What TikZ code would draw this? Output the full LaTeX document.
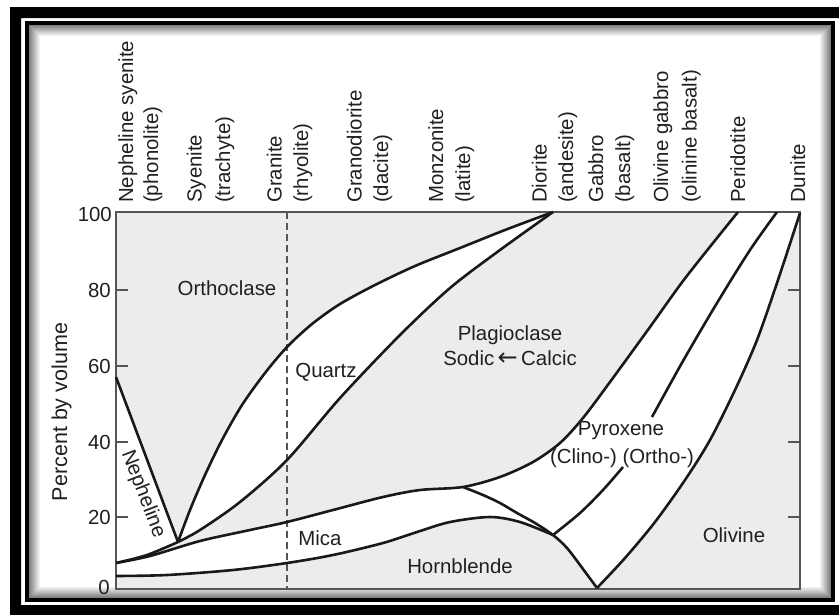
\documentclass[tikz,border=0pt]{standalone}
\usepackage{fontspec}
\setmainfont{Liberation Sans}
\newfontfamily\arrfont{DejaVu Sans}
\definecolor{bggray}{RGB}{236,236,238}
\definecolor{txt}{RGB}{32,32,32}
\definecolor{crv}{RGB}{25,25,25}
\definecolor{axc}{RGB}{85,85,85}
\begin{document}
\begin{tikzpicture}[x=1pt,y=-1pt,
  lab/.style={font=\fontsize{20.4}{24}\selectfont, text=txt, inner sep=0pt},
  col/.style={lab, rotate=90, anchor=base west},
  tick/.style={lab, anchor=base east},
  curve/.style={draw=crv, line width=2.6pt, line join=round},
  axis/.style={draw=axc, line width=1.4pt},
  divline/.style={draw=axc, line width=1.2pt, dash pattern=on 7pt off 4pt},
]
\useasboundingbox (0,0) rectangle (839,614);
\fill[white] (0,0) rectangle (839,614);
% outer black frame
\fill[black, even odd rule] (10,7) rectangle (860,640) (21,18) rectangle (850,605);
% inner shadow
\foreach \i in {0,...,10} {
  \pgfmathsetmacro\s{50-4.5*\i}
  \draw[black!\s, line width=1.1pt] (29.5+\i,25.5+\i) rectangle (830.5-\i,597.5-\i);
}
% inner frame
\draw[black, line width=4pt] (27,23) rectangle (833,600);

% key points
\coordinate (N0) at (116,377);
\coordinate (V)  at (178,542);
\coordinate (Lm) at (116,563);
\coordinate (Lh) at (116,576);
\coordinate (D)  at (553,212);
\coordinate (J1) at (463,487);
\coordinate (J2) at (553,535);
\coordinate (Bt) at (597,588);
\coordinate (At) at (738,212);
\coordinate (Ot) at (777,212);
\coordinate (Ct) at (800,213);

% plot background
\fill[bggray] (116,212) rectangle (800,589);

% white regions
\fill[white] (N0) -- (V) -- plot[smooth] coordinates {(V) (147,555) (Lm)} -- cycle;
\fill[white] plot[smooth] coordinates {(V) (190,510) (205,475) (222,440) (242,405) (265,373) (287,347) (312,324) (340,304) (375,285) (415,266) (460,248) (505,230) (D)}
  -- plot[smooth] coordinates {(D) (500,250) (450,288) (400,335) (340,398) (287,460) (240,502) (200,530) (V)} -- cycle;
\fill[white] plot[smooth] coordinates {(Lm) (150,556) (200,541) (250,530) (287,522) (333,510) (383,497) (420,490) (J1) (500,477) (533,462) (560,443) (583,418) (610,382) (650,327) (683,281) (717,238) (At)}
  -- (Ct)
  -- plot[smooth] coordinates {(Ct) (778,280) (757,340) (735,390) (710,440) (685,480) (655,522) (625,558) (Bt)}
  -- plot[smooth] coordinates {(Bt) (583,569) (567,548) (J2)}
  -- plot[smooth] coordinates {(J2) (520,522) (490,517) (450,522) (417,532) (383,543) (333,555) (287,563) (233,570) (167,575) (Lh)}
  -- cycle;

% granite divider
\draw[divline] (287,212) -- (287,589);

% axes frame and ticks
\draw[axis] (116,212) rectangle (800,589);
\foreach \y in {290,366,442,517} {
  \draw[axis] (116,\y) -- (128,\y);
  \draw[axis] (788,\y) -- (800,\y);
}

% curves
\draw[curve] (N0) -- (V);
\draw[curve] plot[smooth] coordinates {(V) (147,555) (Lm)};
\draw[curve] plot[smooth] coordinates {(V) (190,510) (205,475) (222,440) (242,405) (265,373) (287,347) (312,324) (340,304) (375,285) (415,266) (460,248) (505,230) (D)};
\draw[curve] plot[smooth] coordinates {(V) (200,530) (240,502) (287,460) (340,398) (400,335) (450,288) (500,250) (D)};
\draw[curve] plot[smooth] coordinates {(Lm) (150,556) (200,541) (250,530) (287,522) (333,510) (383,497) (420,490) (J1) (500,477) (533,462) (560,443) (583,418) (610,382) (650,327) (683,281) (717,238) (At)};
\draw[curve] plot[smooth] coordinates {(J1) (483,495) (500,503) (517,513) (535,523) (J2) (567,548) (583,569) (Bt)};
\draw[curve] plot[smooth] coordinates {(Lh) (167,575) (233,570) (287,563) (333,555) (383,543) (417,532) (450,522) (490,517) (520,522) (J2)};
\draw[curve] plot[smooth] coordinates {(Bt) (625,558) (655,522) (685,480) (710,440) (735,390) (757,340) (778,280) (Ct)};
\draw[curve] plot[smooth] coordinates {(J2) (580,513) (603,490) (623,467)};
\draw[curve] plot[smooth] coordinates {(652,417) (683,361) (717,303) (750,250) (Ot)};

% column labels
\node[col] (c1a) at (133,203) {Nepheline syenite};
\node[col] (c1b) at (158,203) {(phonolite)};
\node[col] (c2a) at (201.5,203) {Syenite};
\node[col] (c2b) at (230,203) {(trachyte)};
\node[col] (c3a) at (281.5,203) {Granite};
\node[col] (c3b) at (308,203) {(rhyolite)};
\node[col] (c4a) at (361.5,203) {Granodiorite};
\node[col] (c4b) at (388,203) {(dacite)};
\node[col] (c5a) at (443,203) {Monzonite};
\node[col] (c5b) at (470,203) {(latite)};
\node[col] (c6a) at (546.5,203) {Diorite};
\node[col] (c6b) at (573,203) {(andesite)};
\node[col] (c7a) at (603,203) {Gabbro};
\node[col] (c7b) at (630,203) {(basalt)};
\node[col] (c8a) at (668,203) {Olivine gabbro};
\node[col] (c8b) at (696.5,203) {(olinine basalt)};
\node[col] (c9a) at (745,203) {Peridotite};
\node[col] (c10a) at (805,203) {Dunite};

% y axis
\node[tick] (t100) at (112,221) {100};
\node[tick] (t80) at (111,297) {80};
\node[tick] (t60) at (111,373) {60};
\node[tick] (t40) at (111,449) {40};
\node[tick] (t20) at (111,524) {20};
\node[tick] (t0) at (110,594) {0};
\node[lab, rotate=90, anchor=base, font=\fontsize{21.5}{24}\selectfont] (ylab) at (67,412) {Percent by volume};

% region labels
\node[lab, anchor=base] (orth) at (227,295) {Orthoclase};
\node[lab, anchor=base] (qtz) at (326,377) {Quartz};
\node[lab, rotate=-69] (neph) at (143,494) {Nepheline};
\node[lab, anchor=base] (mica) at (320,545) {Mica};
\node[lab, anchor=base] (hbl) at (460,573) {Hornblende};
\node[lab, anchor=base] (plag) at (510,340) {Plagioclase};
\node[lab, anchor=base] (sodic) at (510,365) {Sodic\,{\arrfont\fontsize{24}{24}\selectfont ←}\,Calcic};
\node[lab, anchor=base] (pyx) at (621,435) {Pyroxene};
\node[lab, anchor=base] (clino) at (622,463) {(Clino-) (Ortho-)};
\node[lab, anchor=base] (oliv) at (734,542) {Olivine};
\end{tikzpicture}
\end{document}
